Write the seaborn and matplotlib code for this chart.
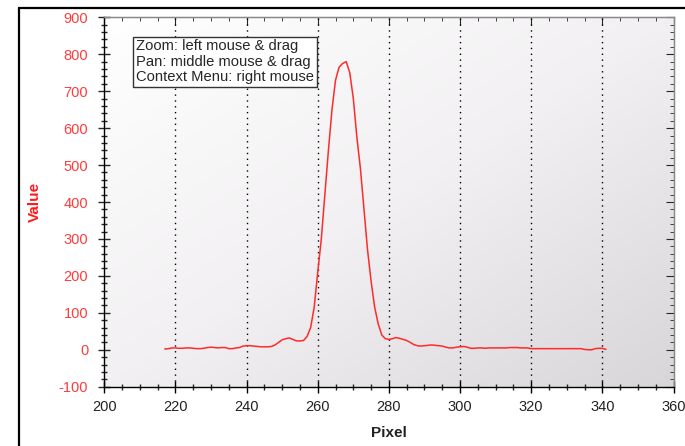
import numpy as np
import seaborn as sns
import matplotlib.pyplot as plt
import matplotlib.ticker as ticker
from matplotlib.colors import LinearSegmentedColormap
from matplotlib.lines import Line2D

pixel = list(range(217, 342))
value = [
    2, 3, 5, 5, 4, 4, 5, 5, 4, 3,            # 217-226
    3, 4, 6, 7, 6, 5, 6, 6, 3, 3,            # 227-236
    5, 6, 10, 11, 11, 10, 9, 8, 8, 8,        # 237-246
    9, 13, 20, 27, 30, 32, 28, 24, 24, 25,   # 247-256
    36, 60, 115, 210, 300, 420, 540, 650, 730, 765,  # 257-266
    775, 780, 750, 680, 575, 490, 380, 270, 185, 115,  # 267-276
    70, 40, 30, 28, 30, 33, 31, 28, 25, 20,  # 277-286
    14, 11, 10, 11, 12, 13, 12, 11, 10, 7,   # 287-296
    5, 5, 7, 8, 9, 7, 4, 4, 5, 5,            # 297-306
    4, 5, 5, 5, 5, 5, 5, 6, 6, 6,            # 307-316
    5, 5, 5, 3, 3, 3, 3, 3, 3, 3,            # 317-326
    3, 3, 3, 3, 3, 3, 3, 3, 1, 0,            # 327-336
    0, 3, 4, 4, 1,                           # 337-341
]

x_ticks = [200, 220, 240, 260, 280, 300, 320, 340, 360]
y_ticks = [-100, 0, 100, 200, 300, 400, 500, 600, 700, 800, 900]
hint_text = "Zoom: left mouse & drag\nPan: middle mouse & drag\nContext Menu: right mouse"

sns.set_style("ticks")
plt.rcParams["font.family"] = ["Liberation Sans", "DejaVu Sans"]
plt.rcParams["axes.unicode_minus"] = False

W, H = 685, 446
fig = plt.figure(figsize=(W / 100, H / 100), dpi=100)
l, r, t, b = 104.3, 673.5, 17.3, 386.7
ax = fig.add_axes([l / W, 1 - b / H, (r - l) / W, (b - t) / H])

# outer window frame
fig.add_artist(Line2D([19 / W, 19 / W], [0, 1 - 8 / H], transform=fig.transFigure, color="black", lw=1.6))
fig.add_artist(Line2D([19 / W, 1], [1 - 8 / H, 1 - 8 / H], transform=fig.transFigure, color="black", lw=1.6))

# plot background gradient (white top-left -> light grey bottom-right)
cmap = LinearSegmentedColormap.from_list("bg", ["#ffffff", "#f2f0f2", "#d9d6da"])
gx, gy = np.meshgrid(np.linspace(0, 1, 200), np.linspace(0, 1, 200))
grad = (gx + gy) / 2
ax.imshow(grad, cmap=cmap, extent=[0, 1, 0, 1], transform=ax.transAxes,
          aspect="auto", zorder=0, interpolation="bilinear")

sns.lineplot(x=pixel, y=value, ax=ax, color="#ff2a2a", lw=1.1, zorder=3)

ax.set_xlim(200, 360)
ax.set_ylim(-100, 900)
ax.set_xticks(x_ticks)
ax.set_yticks(y_ticks)
ax.xaxis.set_minor_locator(ticker.MultipleLocator(5))
ax.yaxis.set_minor_locator(ticker.MultipleLocator(20))

ax.tick_params(axis="x", which="major", direction="inout", length=9, width=1, pad=5,
               labelsize=10.5, colors="black", labelcolor="#222222")
ax.tick_params(axis="x", which="minor", direction="inout", length=5, width=1)
ax.tick_params(axis="y", which="major", direction="inout", length=9, width=1, pad=7,
               labelsize=10.5, labelcolor="#ff3b3b")
ax.tick_params(axis="y", which="minor", direction="inout", length=5, width=1)

for s in ax.spines.values():
    s.set_visible(True)
    s.set_color("black")
    s.set_linewidth(1)
ax.spines["top"].set_color("#888888")
ax.spines["right"].set_color("#888888")

# inward ticks on top and right
top = ax.secondary_xaxis("top")
top.set_xticks(x_ticks)
top.xaxis.set_minor_locator(ticker.MultipleLocator(5))
top.tick_params(which="major", direction="in", length=6, labeltop=False)
top.tick_params(which="minor", direction="in", length=3)
top.spines["top"].set_color("#888888")
right = ax.secondary_yaxis("right")
right.set_yticks(y_ticks)
right.yaxis.set_minor_locator(ticker.MultipleLocator(20))
right.tick_params(which="major", direction="in", length=6, labelright=False)
right.tick_params(which="minor", direction="in", length=3)
right.spines["right"].set_color("#888888")

# vertical dotted grid
for xv in x_ticks[1:-1]:
    ax.axvline(xv, color="black", lw=1, ls=(0, (1, 3.2)), zorder=1)

ax.set_xlabel("Pixel", fontsize=11, fontweight="bold", color="#222222", labelpad=9)
ax.set_ylabel("Value", fontsize=11, fontweight="bold", color="#ff1a1a", labelpad=12)

ax.text(0.056, 0.94, hint_text, transform=ax.transAxes, fontsize=10.6, va="top", ha="left",
        linespacing=1.1, zorder=5,
        bbox=dict(boxstyle="square,pad=0.2", fc="white", ec="#333333", lw=1))

fig.savefig("out.png", dpi=100)
